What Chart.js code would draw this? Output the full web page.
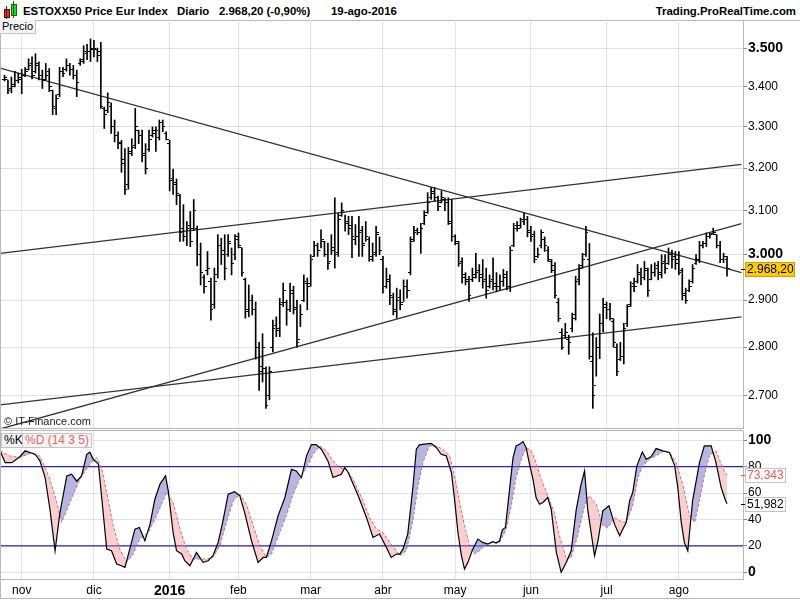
<!DOCTYPE html>
<html>
<head>
<meta charset="utf-8">
<script src="https://cdn.jsdelivr.net/npm/chart.js@4.4.0/dist/chart.umd.min.js"></script>
<style>
  body { margin: 0; width: 800px; height: 600px; overflow: hidden; background: #fff; position: relative;
         font-family: "Liberation Sans", Arial, sans-serif; }
  .abs { position: absolute; }
  .head { top: 3px; font-size: 11.4px; font-weight: bold; line-height: 16px; color: #000; white-space: nowrap; }
  .box { font-size: 12px; line-height: 13px; padding: 0 2px; background: #f4f4f4; border: 1px solid #c4c4c4; white-space: nowrap; }
  .hline { height: 1px; background: #b8b8b8; }
</style>
</head>
<body>
<!-- header -->
<div class="abs" style="left:4px;top:9px;width:4px;height:7px;background:#e03030;border:1px solid #700"></div>
<div class="abs" style="left:5.5px;top:6px;width:1px;height:13px;background:#700"></div>
<div class="abs" style="left:11px;top:4px;width:4px;height:10px;background:#30d030;border:1px solid #070"></div>
<div class="abs" style="left:12.5px;top:1px;width:1px;height:17px;background:#070"></div>
<div class="abs head" style="left:23px">ESTOXX50 Price Eur Index</div>
<div class="abs head" style="left:177px">Diario</div>
<div class="abs head" style="left:219px">2.968,20 (-0,90%)</div>
<div class="abs head" style="left:331px">19-ago-2016</div>
<div class="abs head" style="right:4px">Trading.ProRealTime.com</div>
<div class="abs hline" style="left:0;top:20px;width:800px"></div>

<div class="abs" style="left:0;top:20px;width:800px;height:409px"><canvas id="price" width="800" height="409"></canvas></div>
<div class="abs" style="left:0;top:429px;width:800px;height:171px"><canvas id="osc" width="800" height="171"></canvas></div>

<div class="abs hline" style="left:0;top:428px;width:743px"></div>
<div class="abs hline" style="left:0;top:430px;width:743px"></div>
<div class="abs hline" style="left:0;top:598px;width:800px"></div>
<div class="abs" style="left:0;top:20px;width:1px;height:579px;background:#b8b8b8"></div>

<div class="abs box" style="left:0;top:20px;font-size:11px;border-top:none;border-left:none">Precio</div>
<div class="abs" style="left:4px;top:415px;font-size:11px;color:#222">© IT-Finance.com</div>
<div class="abs box" style="left:1px;top:433px">%K</div>
<div class="abs box" style="left:22px;top:433px;color:#e06a6a">%D (14 3 5)</div>

<script>
const FONT = '"Liberation Sans", Arial, sans-serif';

// x axis: one slot per trading day, 26-oct-2015 .. 19-ago-2016
const XMIN = -1.31;
const XMAX = 214.65;
const months = ['nov', 'dic', '2016', 'feb', 'mar', 'abr', 'may', 'jun', 'jul', 'ago'];
const monthIdx = [5, 26, 48, 68, 89, 110, 131, 153, 175, 196];
const priceTicks = [2700, 2800, 2900, 3000, 3100, 3200, 3300, 3400, 3500];
const boldPrices = [3000, 3500];

const opens = [
  3420,3420,3395,3405,3415,3420,3430,3445,3460,3440,3455,3430,3420,3440,3390,3345,3380,3440,3445,3455,
  3445,3430,3460,3470,3485,3490,3495,3495,3490,3345,3340,3350,3300,3280,3262,3220,3160,3240,3255,3290,
  3280,3235,3245,3280,3285,3275,3310,3285,3260,3175,3165,3135,3060,3040,3065,3060,3060,3000,2950,2965,
  2940,2890,2955,3020,3010,3000,3025,3000,3035,3015,2945,2875,2900,2880,2800,2750,2755,2700,2800,2845,
  2835,2895,2895,2880,2915,2885,2815,2900,2935,2935,2995,3020,3010,3035,3000,2985,3015,3005,3090,3095,
  3075,3065,3035,3040,3055,3025,3035,2995,3005,3045,2990,2930,2945,2905,2875,2905,2895,2930,2960,3035,
  3055,3050,3070,3095,3130,3145,3130,3120,3125,3120,3075,3040,3025,2985,2955,2945,2945,2955,2965,2955,
  2945,2930,2945,2935,2930,2940,2955,2930,3020,3065,3065,3075,3080,3055,3045,2995,3020,3035,3010,2985,
  2975,2895,2830,2825,2815,2840,2870,2945,2975,3000,2990,2770,2720,2800,2850,2885,2880,2855,2800,2775,
  2780,2850,2890,2935,2940,2955,2950,2965,2945,2960,2975,2955,2985,2980,3000,2995,2990,2965,2915,2920,
  2940,2980,2990,3020,3025,3040,3048,3045,3020,2990,2990
];
const highs = [
  3430,3417,3425,3440,3435,3445,3450,3472,3477,3485,3464,3443,3460,3447,3392,3380,3450,3450,3472,3460,
  3455,3443,3472,3506,3510,3524,3520,3500,3515,3349,3385,3360,3317,3288,3267,3247,3250,3271,3346,3292,
  3292,3259,3292,3300,3300,3317,3317,3288,3267,3198,3174,3138,3114,3075,3098,3126,3065,3026,2955,3007,
  2948,2970,3045,3037,3045,3045,3015,3045,3049,3015,2948,2933,2911,2896,2810,2828,2759,2759,2857,2864,
  2904,2937,2900,2937,2930,2900,2890,2955,2948,3000,3030,3026,3056,3030,3026,3045,3130,3094,3118,3090,
  3087,3087,3068,3087,3064,3075,3040,3026,3064,3040,2996,2970,2955,2915,2926,2922,2944,2944,3040,3064,
  3060,3071,3100,3142,3154,3154,3134,3146,3130,3130,3126,3045,3030,2993,2960,2952,2970,3003,2978,2989,
  2970,2955,2993,2960,2955,2967,2963,3018,3071,3075,3083,3094,3087,3064,3053,3015,3056,3040,3018,2989,
  2982,2904,2839,2850,2825,2872,2952,2978,3003,3064,3025,2830,2820,2870,2904,2896,2893,2860,2807,2810,
  2850,2890,2940,2948,2978,2970,2985,2970,2978,2982,2985,3000,3000,3015,3010,3007,3007,2970,2926,2944,
  2978,3000,3030,3030,3049,3049,3060,3045,3030,3003,2996
];
const lows = [
  3415,3383,3385,3400,3410,3383,3426,3443,3420,3435,3418,3396,3418,3388,3330,3330,3375,3426,3440,3430,
  3420,3375,3455,3460,3470,3465,3477,3465,3346,3296,3335,3284,3263,3247,3190,3138,3150,3230,3247,3259,
  3215,3186,3240,3275,3240,3268,3288,3268,3146,3138,3114,3030,3030,3020,3018,3055,2975,2933,2915,2955,
  2857,2882,2948,2978,2944,2996,2955,2989,3015,2952,2861,2864,2868,2775,2711,2728,2675,2692,2790,2822,
  2822,2886,2846,2875,2870,2800,2843,2897,2879,2930,2996,2996,3015,2996,2967,3000,2970,2996,3087,3053,
  3045,2993,3022,2996,2996,3030,2985,2985,2996,3000,2915,2926,2890,2868,2861,2879,2897,2904,2955,3030,
  3045,3003,3068,3094,3126,3122,3100,3118,3100,3068,3030,3022,2974,2937,2933,2897,2940,2948,2940,2926,
  2904,2926,2922,2918,2922,2930,2922,2918,3018,3053,3060,3068,3040,3030,2982,2993,3015,3007,2985,2960,
  2904,2854,2795,2818,2785,2832,2857,2933,2970,2996,2775,2675,2740,2776,2832,2860,2857,2800,2741,2772,
  2765,2843,2886,2918,2937,2933,2944,2908,2944,2952,2944,2948,2958,2978,2970,2967,2955,2900,2893,2918,
  2937,2978,2982,3015,3018,3037,3045,3015,2982,2982,2952
];
const closes = [
  3425,3390,3400,3415,3425,3430,3440,3455,3430,3460,3430,3415,3430,3400,3350,3370,3440,3435,3455,3445,
  3430,3410,3465,3490,3490,3500,3500,3480,3350,3330,3360,3300,3280,3260,3210,3150,3235,3250,3300,3280,
  3230,3200,3270,3290,3290,3310,3300,3270,3170,3160,3140,3050,3040,3060,3030,3100,3000,2960,2930,2970,
  2880,2940,3020,3000,2970,3030,2980,3040,3020,2960,2880,2900,2880,2800,2760,2800,2680,2750,2840,2840,
  2890,2920,2880,2920,2880,2810,2870,2940,2930,2990,3020,3010,3030,3000,2980,3010,3000,3080,3100,3070,
  3060,3040,3040,3050,3020,3040,2990,3000,3050,3010,2930,2940,2910,2880,2900,2890,2930,2920,3030,3050,
  3050,3060,3090,3120,3140,3130,3110,3130,3120,3070,3040,3030,2980,2950,2940,2910,2950,2960,2950,2940,
  2920,2940,2930,2930,2940,2950,2930,3010,3060,3060,3080,3080,3050,3040,2990,3000,3050,3020,2990,2965,
  2910,2860,2800,2830,2810,2860,2940,2970,2990,3050,2780,2700,2800,2850,2890,2880,2860,2810,2750,2780,
  2840,2886,2930,2930,2960,2950,2970,2920,2960,2970,2960,2980,2970,3000,2990,2980,2960,2910,2900,2930,
  2970,2990,3020,3025,3040,3045,3050,3020,2990,2995,2968.2
];

// trend lines: [bar index, price] at both ends
const trendDown = [[-1.31, 3448], [214.2, 2960]];
const trendUpTop = [[-1.31, 3003], [214.2, 3209]];
const trendUpSteep = [[-1.31, 2634], [214.2, 3070]];
const trendUpFlat = [[-1.31, 2682], [214.2, 2864]];

// Stochastic %K (14 3 5)
const kIdx = [-1.3,0.2,2.1,3.5,4.5,6,7.4,8.9,10.3,11.8,13.2,14.7,16.1,18.1,19.5,21,22.4,23.9,24.8,25.8,
  27.3,28.2,29.7,31.1,32.6,34,35,36.4,37.9,39.2,40.8,42.3,43.7,45.2,46.8,47.6,49,50,51.5,52.4,
  53.9,55.8,57.7,59.2,60.6,62.1,63.5,65,66.9,68.4,69.8,71.8,73.7,75.2,76.1,77.6,79.5,81.5,83.4,84.8,
  86.3,87.8,89.2,90.6,92.1,94,95.5,97.9,98.9,99.9,102.8,105.2,107.1,109,111,112.4,113.9,114.9,115.8,117.2,
  118.7,119.7,120.6,122.1,124,125.5,126.9,128.4,129.9,130.8,131.8,132.8,133.7,134.7,136.1,137.6,139,140.5,141.9,142.9,
  143.9,144.7,145.6,146.8,147.8,148.7,149.7,150.7,151.6,152.6,153.6,154.5,155.5,156.5,157.9,158.9,160.4,161.8,163.3,164.7,
  166.2,167.6,168.6,169.5,170.5,171.5,172.5,173.9,175.7,177.3,178.8,179.7,180.7,181.7,182.6,183.8,185.4,186.5,188,189.4,
  191.4,193.3,194.8,195.7,196.7,197.6,198.6,200,202,203.4,205.4,206.8,208.3,209.5,210];
const kVal = [92,83,83,85.6,87.7,92,90.7,89.4,84.4,71.8,47.9,16.4,45,73,74.3,69,73,89.4,91,85.6,
  81.9,58,17.6,16.4,6.3,5,3.8,17.6,32.7,34,23.9,36.5,55.4,66.8,73,61.7,30.2,16.4,13.9,8.8,
  5,15.1,7.6,8.8,12.6,22.7,39,59.2,61,58,45.3,23.9,7.6,11.3,11.3,23.9,42.8,56.7,78,76.8,
  71.8,88.2,96.7,96.7,93.2,84.4,71.8,74.3,79.3,75.6,58,41.6,26.4,29,18.9,11.3,13.9,13.9,17.6,29,
  64.2,93.2,96.5,97,97.7,94.5,89.4,88.2,75.6,55.4,30.2,12.6,2.5,7.6,17.6,25.2,22.7,21.4,23.2,22.2,
  23.9,32.2,34,63,86.6,95.7,97,99,94.5,81.9,70.5,56.7,51.6,52.9,56.7,47.9,15.1,0,7.6,16.4,
  47.9,66.8,76.8,47.9,30.2,12.6,23.9,46.6,50.4,36.5,27.7,32.7,37.8,54.2,60.5,80.6,91.2,85.6,87.7,93.7,
  92,90.7,80.6,64.2,37.8,22.7,16.4,54.2,83.1,95.7,95.7,83.1,64.2,55,51.982];

// Stochastic %D
const dIdx = [-1.3,1.6,4.5,7.4,10.3,13.2,15.2,16.6,19,21.9,24.8,26.8,28.2,29.7,31.6,33.5,35.5,37.4,39.3,41.8,
  44.2,47.1,49,51,52.9,54.8,56.8,58.7,60.6,62.6,64.5,66.5,68.4,70.3,72.3,74.2,76.1,77.6,80,81.9,
  83.9,85.8,87.8,89.7,91.6,93.6,95.5,97.4,99.4,101.3,104.2,106.1,108.1,110,112,113.9,114.9,116.8,118.7,120.2,
  121.6,123.5,125.5,127.4,129.4,130.8,132.3,133.7,135.2,136.6,138.1,140,141.9,143.9,145.8,147.3,148.7,150.2,151.6,153.1,
  154.5,156,157.9,159.8,161.3,163.3,164.7,166.6,168.6,170,172,173.9,175.4,177.3,178.8,180.7,182.6,184.1,185.5,187.5,
  189.4,191.4,193.3,195.2,197.2,199.1,200.6,202,203.4,204.9,206.8,208.3,209.5,210];
const dVal = [92,88,87,90,88,70.5,52.9,37.8,52.9,70.5,81.9,86.9,79.3,60.5,35.3,17.6,7.6,13.9,25.2,30.2,
  42.8,60.5,52.9,32.7,17.6,10.1,10.1,10.1,11.3,20.2,37.8,54.2,59.2,51.6,35.3,20.2,11.3,13.9,30.2,42.8,
  59.2,70.5,79.3,89.4,95.7,92,84.4,79.3,78,70.5,54.2,41.6,32.7,30.2,22.7,16.4,12.6,16.4,39,65.5,
  83.1,95.7,95.7,93.2,88.2,73,52.9,35.3,20.2,13.9,16.4,21.4,22.7,22.7,32.7,50.4,71.8,85.6,94.5,92,
  83.1,70.5,58,45.3,27.7,10.1,11.3,27.7,50.4,58,51.6,35.3,34,41.6,39,37.8,50.4,71.8,80.6,85.6,
  88.2,91.5,90.7,83.1,65.5,42.8,37.8,54.2,73,88.2,92,81.9,75,73.343];
const stochLevels = [20, 80];

const lastPrice = { value: 2968.2, text: '2.968,20' };
const lastK = { value: 51.982, text: '51,982' };
const lastD = { value: 73.343, text: '73,343' };

function thousands(v) {
  const s = String(Math.round(v));
  return s.slice(0, s.length - 3) + '.' + s.slice(-3);
}

function tickImage(left) {
  const c = document.createElement('canvas');
  c.width = 5; c.height = 1;
  const g = c.getContext('2d');
  g.fillStyle = '#000';
  g.fillRect(left ? 0 : 3, 0, 2, 1);
  return c;
}

const tagPlugin = {
  id: 'tags',
  afterDraw(chart, args, opts) {
    const ctx = chart.ctx;
    const ys = chart.scales.y;
    const x0 = chart.chartArea.right;
    (opts.items || []).forEach(t => {
      const y = Math.round(ys.getPixelForValue(t.value));
      ctx.save();
      ctx.fillStyle = t.bg;
      ctx.fillRect(x0 + 2, y - 7, t.w, 14);
      ctx.strokeStyle = t.border;
      ctx.lineWidth = 1;
      ctx.strokeRect(x0 + 2.5, y - 6.5, t.w, 14);
      ctx.beginPath();
      ctx.moveTo(x0 - 2, y + 0.5);
      ctx.lineTo(x0 + 2, y + 0.5);
      ctx.strokeStyle = t.color;
      ctx.stroke();
      ctx.fillStyle = t.color;
      ctx.font = '12px ' + FONT;
      ctx.textBaseline = 'middle';
      ctx.fillText(t.text, x0 + 4, y + 1);
      ctx.restore();
    });
  }
};

const xScale = (showLabels) => ({
  type: 'linear',
  offset: false,
  min: XMIN,
  max: XMAX,
  afterBuildTicks: s => { s.ticks = monthIdx.map(v => ({ value: v })); },
  afterFit: s => { s.height = showLabels ? 21 : 0; s.paddingLeft = 0; s.paddingRight = 0; },
  grid: { color: '#e4e4e4', drawTicks: false, offset: false },
  border: { display: showLabels, color: '#b8b8b8' },
  ticks: {
    display: showLabels,
    autoSkip: false,
    maxRotation: 0,
    padding: 4,
    color: '#000',
    callback: v => months[monthIdx.indexOf(v)],
    font: c => (c.tick && c.tick.value === 48)
      ? { family: FONT, size: 14, weight: 'bold' }
      : { family: FONT, size: 12 }
  }
});

const line = (pts, color, width) => ({
  type: 'line',
  data: pts.map(p => ({ x: p[0], y: p[1] })),
  borderColor: color,
  borderWidth: width,
  pointRadius: 0,
  fill: false
});

new Chart(document.getElementById('price'), {
  data: {
    datasets: [
      {
        type: 'bar',
        data: highs.map((h, i) => ({ x: i, y: [lows[i], h] })),
        backgroundColor: '#000',
        barThickness: 1,
        grouped: false
      },
      {
        type: 'scatter',
        data: opens.map((o, i) => ({ x: i, y: o })),
        pointStyle: tickImage(true),
        pointRadius: 1
      },
      {
        type: 'scatter',
        data: closes.map((c, i) => ({ x: i, y: c })),
        pointStyle: tickImage(false),
        pointRadius: 1
      },
      line(trendDown, '#333', 1.3),
      line(trendUpTop, '#333', 1.3),
      line(trendUpSteep, '#333', 1.3),
      line(trendUpFlat, '#333', 1.3)
    ]
  },
  plugins: [tagPlugin],
  options: {
    responsive: false,
    animation: false,
    devicePixelRatio: 1,
    layout: { padding: 0, autoPadding: false },
    plugins: {
      legend: { display: false },
      tooltip: { enabled: false },
      tags: { items: [{ ...lastPrice, bg: '#ffcc00', border: '#c9a400', color: '#000', w: 49 }] }
    },
    scales: {
      x: xScale(false),
      y: {
        type: 'logarithmic',
        position: 'right',
        min: 2634,
        max: 3574,
        afterBuildTicks: s => { s.ticks = priceTicks.map(v => ({ value: v })); },
        afterFit: s => { s.width = 57; s.paddingTop = 0; s.paddingBottom = 0; },
        grid: { color: '#e2e2e2', tickLength: 4, tickColor: '#888' },
        border: { color: '#b8b8b8' },
        ticks: {
          padding: 1,
          color: '#000',
          callback: v => thousands(v),
          font: c => (c.tick && boldPrices.includes(c.tick.value))
            ? { family: FONT, size: 14, weight: 'bold' }
            : { family: FONT, size: 12 }
        }
      }
    }
  }
});

new Chart(document.getElementById('osc'), {
  data: {
    datasets: [
      {
        type: 'line',
        data: kIdx.map((x, j) => ({ x, y: kVal[j] })),
        borderColor: '#000',
        borderWidth: 1.2,
        pointRadius: 0,
        fill: { target: 1, above: 'rgba(110,110,200,0.5)', below: 'rgba(238,130,130,0.38)' }
      },
      {
        type: 'line',
        data: dIdx.map((x, j) => ({ x, y: dVal[j] })),
        borderColor: '#ea6464',
        borderWidth: 1,
        borderDash: [3, 2],
        pointRadius: 0,
        fill: false
      },
      ...stochLevels.map(v => line([[XMIN, v], [XMAX, v]], '#2424b4', 1.2))
    ]
  },
  plugins: [tagPlugin],
  options: {
    responsive: false,
    animation: false,
    devicePixelRatio: 1,
    layout: { padding: { top: 2 }, autoPadding: false },
    plugins: {
      legend: { display: false },
      tooltip: { enabled: false },
      tags: { items: [
        { ...lastD, bg: '#fff', border: '#c4c4c4', color: '#e05a5a', w: 40 },
        { ...lastK, bg: '#fff', border: '#c4c4c4', color: '#000', w: 40 }
      ] }
    },
    scales: {
      x: xScale(true),
      y: {
        type: 'linear',
        position: 'right',
        min: -5,
        max: 107,
        afterBuildTicks: s => { s.ticks = [0, 10, 20, 30, 40, 50, 60, 70, 80, 90, 100].map(v => ({ value: v })); },
        afterFit: s => { s.width = 57; s.paddingTop = 0; s.paddingBottom = 0; },
        grid: {
          color: c => (c.tick && c.tick.value % 20 === 0) ? '#e2e2e2' : 'rgba(0,0,0,0)',
          tickColor: '#888',
          tickLength: 4
        },
        border: { color: '#b8b8b8' },
        ticks: {
          padding: 1,
          color: '#000',
          callback: v => (v % 20 === 0 ? String(v) : ''),
          font: c => (c.tick && (c.tick.value === 0 || c.tick.value === 100))
            ? { family: FONT, size: 14, weight: 'bold' }
            : { family: FONT, size: 12 }
        }
      }
    }
  }
});
</script>
</body>
</html>
